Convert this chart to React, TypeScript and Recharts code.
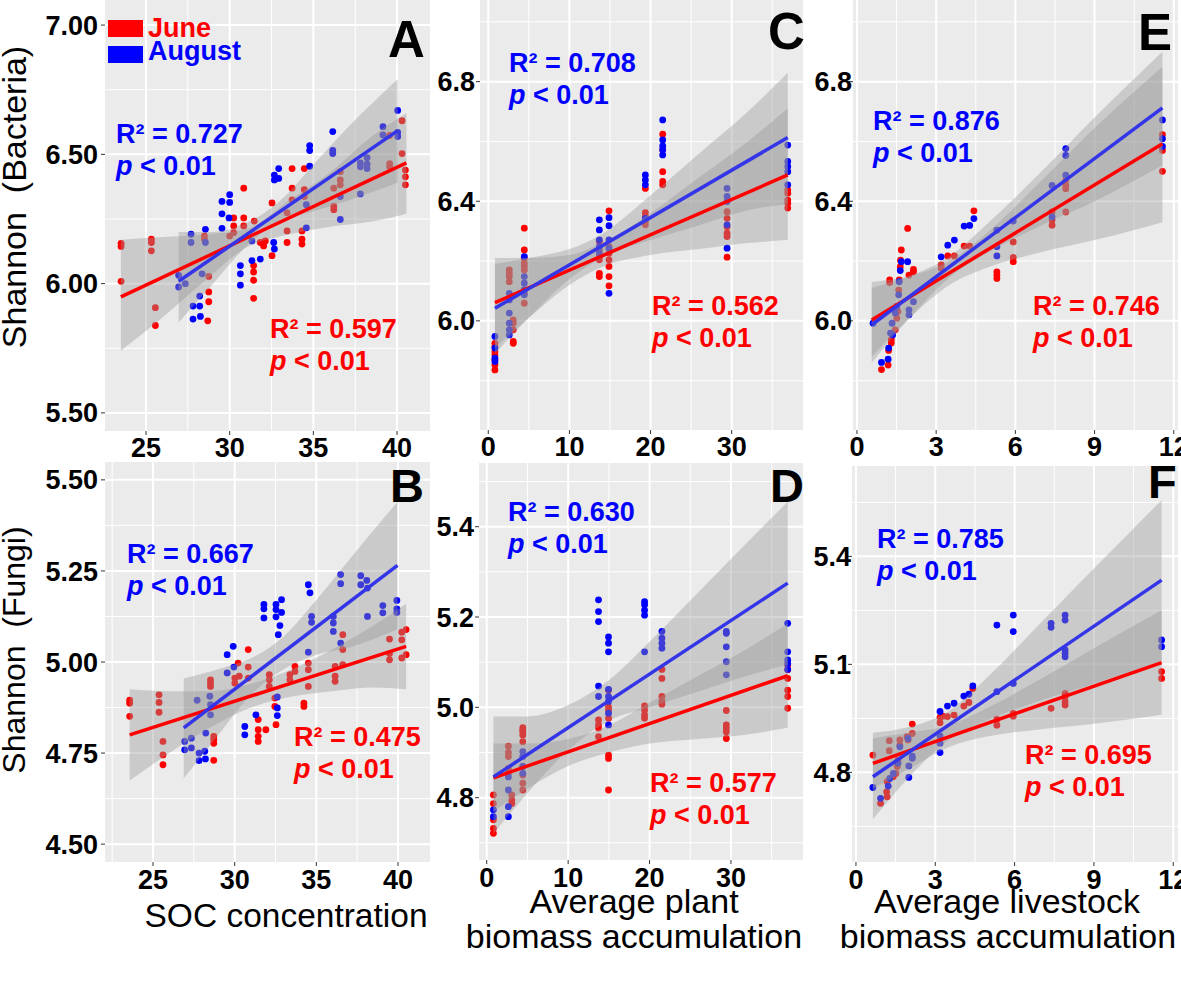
import {
    ComposedChart,
    Scatter,
    Line,
    Area,
    XAxis,
    YAxis,
    CartesianGrid,
} from "recharts";

type Pt = [number, number];
type Band = [number, number, number];

// A: Shannon (Bacteria) ~ SOC concentration
const aJune: Pt[] = [
    [23.51, 6.156], [23.51, 6.144], [23.51, 6.009],
    [25.32, 6.172], [25.32, 6.159], [25.32, 6.127], [25.56, 5.907], [25.56, 5.838],
    [28.49, 6.184], [28.49, 6.172], [28.75, 6.028], [28.75, 5.968], [28.75, 5.93], [28.69, 5.856],
    [30.0, 6.184], [30.24, 6.223], [30.24, 6.254], [30.84, 6.254], [30.84, 6.223], [30.84, 6.369], [30.24, 6.197],
    [31.43, 6.07], [31.43, 6.045], [31.43, 6.013], [31.43, 5.943], [31.47, 6.242],
    [32.53, 6.108], [32.53, 6.312], [31.83, 6.159], [32.03, 6.146], [32.13, 6.165],
    [33.73, 6.445], [33.73, 6.369], [33.73, 6.324], [33.43, 6.274], [33.43, 6.204], [33.43, 6.159],
    [34.46, 6.445], [34.46, 6.363], [34.46, 6.337], [34.32, 6.204], [34.32, 6.172], [34.32, 6.153],
    [36.22, 6.369], [36.22, 6.299], [36.22, 6.286], [36.61, 6.433], [36.61, 6.401], [36.61, 6.382],
    [39.56, 6.464], [39.56, 6.452], [39.56, 6.573],
    [40.3, 6.63], [40.3, 6.503], [40.5, 6.439], [40.5, 6.413], [40.5, 6.382],
];
const aAugust: Pt[] = [
    [26.95, 6.032], [26.95, 5.987], [27.35, 6.0],
    [27.69, 6.191], [27.69, 6.159], [27.81, 5.913], [27.81, 5.863], [28.21, 5.952], [28.21, 5.913],
    [28.25, 5.873], [28.35, 6.038], [28.55, 6.21], [28.55, 6.159],
    [29.54, 6.318], [29.54, 6.27], [30.0, 6.344], [30.0, 6.314], [29.96, 6.254], [29.54, 6.214],
    [30.64, 6.07], [30.64, 6.038], [30.64, 5.994],
    [31.33, 6.165], [31.33, 6.089], [31.83, 6.095],
    [32.67, 6.42], [32.67, 6.401], [32.93, 6.445], [32.93, 6.407], [32.67, 6.134], [32.63, 6.159],
    [34.78, 6.534], [34.78, 6.515], [34.78, 6.454], [34.58, 6.305], [34.58, 6.216],
    [36.16, 6.588], [36.16, 6.515], [36.16, 6.503], [36.61, 6.337], [36.61, 6.248],
    [37.81, 6.467], [37.81, 6.452], [38.21, 6.487], [38.21, 6.462], [38.21, 6.445], [37.81, 6.347],
    [39.16, 6.607], [39.16, 6.575], [40.04, 6.67], [40.04, 6.585], [40.04, 6.569],
];
const aJuneFit: Pt[] = [[23.5, 5.949], [40.56, 6.467]];
const aAugustFit: Pt[] = [[26.95, 6.009], [40.04, 6.592]];
const aJuneBand: Band[] = [
    [23.5, 5.74, 6.17], [26, 5.87, 6.18], [28.5, 6.01, 6.19], [31, 6.14, 6.21],
    [33.5, 6.19, 6.32], [36, 6.22, 6.43], [38.5, 6.24, 6.57], [40.56, 6.27, 6.66],
];
const aAugustBand: Band[] = [
    [26.95, 5.85, 6.2], [29, 6.0, 6.2], [31, 6.145, 6.235], [33, 6.24, 6.32],
    [35, 6.28, 6.46], [37, 6.32, 6.6], [40.04, 6.39, 6.79],
];

// B: Shannon (Fungi) ~ SOC concentration
const bJune: Pt[] = [
    [23.57, 4.895], [23.57, 4.887], [23.57, 4.851],
    [25.37, 4.91], [25.37, 4.889], [25.37, 4.862], [25.61, 4.782], [25.61, 4.745], [25.61, 4.718],
    [28.52, 4.951], [28.52, 4.942], [28.52, 4.933], [28.72, 4.796], [28.72, 4.787], [28.72, 4.777], [28.72, 4.73],
    [30.01, 4.956], [30.01, 4.942], [30.21, 4.997], [30.28, 4.961], [30.83, 5.034], [30.83, 4.986], [30.83, 4.956],
    [31.44, 4.842], [31.44, 4.814], [31.44, 4.796], [31.44, 4.782], [31.91, 4.814],
    [32.12, 4.965], [32.12, 4.951], [32.12, 4.933], [32.46, 4.901], [32.46, 4.878], [32.53, 4.828],
    [33.38, 4.965], [33.38, 4.951], [33.69, 4.988], [33.69, 4.974], [34.24, 4.887], [34.24, 4.878],
    [34.51, 4.997], [34.51, 4.979], [34.51, 4.933],
    [36.15, 4.988], [36.15, 4.961], [36.15, 4.947], [36.62, 5.075], [36.62, 5.034], [36.62, 4.993],
    [39.48, 5.063], [39.48, 5.023], [39.48, 5.006], [40.23, 5.082], [40.23, 5.061], [40.23, 5.011],
    [40.5, 5.089], [40.5, 5.02],
];
const bAugust: Pt[] = [
    [26.94, 4.782], [26.94, 4.759], [27.35, 4.791], [27.35, 4.764], [27.7, 4.895],
    [27.82, 4.75], [27.82, 4.729], [28.17, 4.755], [28.21, 4.734], [28.23, 4.805], [28.48, 4.906],
    [28.52, 4.883], [28.52, 4.855],
    [29.54, 5.02], [29.54, 4.97], [29.91, 5.043], [29.95, 4.986],
    [30.62, 4.823], [30.62, 4.8],
    [31.3, 4.855], [31.79, 5.158], [31.79, 5.146], [31.79, 5.121],
    [32.53, 5.158], [32.53, 5.144], [32.53, 5.124], [32.67, 5.075], [32.87, 5.171], [32.87, 5.136],
    [32.77, 5.1], [32.61, 4.904], [32.61, 4.874], [32.61, 4.853],
    [34.51, 5.212], [34.61, 5.19], [34.71, 5.125], [34.71, 5.109], [34.51, 5.027],
    [36.04, 5.125], [36.04, 5.107], [36.04, 5.084], [36.49, 5.24], [36.49, 5.215], [36.49, 5.052],
    [37.72, 5.237], [37.72, 5.212], [38.09, 5.224], [38.13, 5.203], [38.13, 5.125],
    [39.07, 5.155], [39.07, 5.135], [39.93, 5.169], [39.93, 5.146], [39.93, 5.136],
];
const bJuneFit: Pt[] = [[23.57, 4.8], [40.5, 5.043]];
const bAugustFit: Pt[] = [[26.88, 4.819], [39.97, 5.265]];
const bJuneBand: Band[] = [
    [23.57, 4.675, 4.925], [26, 4.75, 4.92], [28.5, 4.82, 4.92], [31, 4.875, 4.94],
    [33.5, 4.905, 4.98], [36, 4.92, 5.035], [38.5, 4.93, 5.1], [40.5, 4.925, 5.16],
];
const bAugustBand: Band[] = [
    [26.88, 4.68, 4.955], [29, 4.8, 4.98], [31, 4.91, 5.01], [33, 4.98, 5.07],
    [35, 5.02, 5.17], [37, 5.04, 5.28], [39.97, 5.09, 5.44],
];

// C: Shannon (Bacteria) ~ plant biomass
const cJune: Pt[] = [
    [0.82, 5.925], [0.82, 5.914], [0.82, 5.897], [0.82, 5.886], [0.82, 5.87], [0.82, 5.853], [0.82, 5.836],
    [2.59, 6.17], [2.59, 6.159], [2.59, 6.148], [2.59, 6.131],
    [3.08, 6.003], [3.08, 5.992], [3.08, 5.97], [3.08, 5.931], [3.08, 5.925],
    [4.44, 6.31], [4.44, 6.237], [4.44, 6.209], [4.44, 6.193], [4.44, 6.182], [4.44, 6.17], [4.44, 6.092], [4.44, 6.059],
    [13.69, 6.265], [13.69, 6.237], [13.69, 6.215], [13.69, 6.204], [13.69, 6.159], [13.69, 6.148],
    [14.88, 6.368], [14.88, 6.248], [14.88, 6.226], [14.88, 6.204], [14.88, 6.182], [14.88, 6.148], [14.88, 6.117],
    [19.36, 6.443], [19.36, 6.362], [19.36, 6.349], [19.36, 6.332], [19.36, 6.321],
    [21.5, 6.624], [21.5, 6.572], [21.5, 6.499], [21.5, 6.466], [21.5, 6.455],
    [29.43, 6.365], [29.43, 6.343], [29.43, 6.315], [29.43, 6.293], [29.43, 6.282], [29.43, 6.213],
    [36.91, 6.438], [36.91, 6.427], [36.91, 6.404], [36.91, 6.393], [36.91, 6.377],
];
const cAugust: Pt[] = [
    [0.82, 5.948], [0.82, 5.909], [0.82, 5.875], [0.82, 5.864],
    [2.59, 6.092], [2.59, 6.07], [2.59, 6.026], [2.59, 5.992], [2.59, 5.97], [2.59, 5.953],
    [4.44, 6.215], [4.44, 6.148], [4.44, 6.126], [4.44, 6.104], [4.44, 6.087],
    [13.69, 6.338], [13.69, 6.304], [13.69, 6.271], [13.69, 6.248], [13.69, 6.226],
    [14.88, 6.345], [14.88, 6.318], [14.88, 6.271], [14.88, 6.243], [14.88, 6.092],
    [19.36, 6.488], [19.36, 6.471], [19.36, 6.455], [19.36, 6.343],
    [21.5, 6.672], [21.5, 6.605], [21.5, 6.585], [21.5, 6.572], [21.5, 6.555],
    [29.43, 6.443], [29.43, 6.416], [29.43, 6.399], [29.43, 6.321], [29.43, 6.243],
    [36.91, 6.588], [36.91, 6.533], [36.91, 6.516], [36.91, 6.499], [36.91, 6.455],
];
const cJuneFit: Pt[] = [[0.82, 6.061], [36.91, 6.488]];
const cAugustFit: Pt[] = [[0.82, 6.042], [36.91, 6.613]];
const cJuneBand: Band[] = [
    [0.82, 5.91, 6.21], [5, 6.01, 6.21], [10, 6.12, 6.22], [14, 6.18, 6.26],
    [20, 6.22, 6.36], [26, 6.24, 6.48], [32, 6.26, 6.6], [36.91, 6.27, 6.71],
];
const cAugustBand: Band[] = [
    [0.82, 5.89, 6.19], [5, 6.01, 6.21], [10, 6.14, 6.24], [14, 6.21, 6.29],
    [20, 6.27, 6.42], [26, 6.32, 6.56], [32, 6.37, 6.7], [36.91, 6.39, 6.83],
];

// D: Shannon (Fungi) ~ plant biomass
const dJune: Pt[] = [
    [0.82, 4.806], [0.82, 4.787], [0.82, 4.751], [0.82, 4.732], [0.82, 4.721],
    [2.66, 4.914], [2.66, 4.9], [2.66, 4.891], [2.66, 4.865], [2.66, 4.854],
    [3.07, 4.806], [3.07, 4.795], [3.07, 4.787],
    [4.43, 4.955], [4.43, 4.95], [4.43, 4.946], [4.43, 4.939], [4.43, 4.924], [4.43, 4.869], [4.43, 4.85], [4.43, 4.832], [4.43, 4.817],
    [13.73, 4.972], [13.73, 4.961], [13.73, 4.954], [13.73, 4.935],
    [14.96, 5.038], [14.96, 5.001], [14.96, 4.994], [14.96, 4.976], [14.96, 4.894], [14.96, 4.887], [14.96, 4.817],
    [19.39, 5.003], [19.39, 4.994], [19.39, 4.983], [19.39, 4.976],
    [21.52, 5.084], [21.52, 5.064], [21.52, 5.024], [21.52, 5.013], [21.52, 5.007],
    [29.43, 4.993], [29.43, 4.961], [29.43, 4.954], [29.43, 4.946], [29.43, 4.931],
    [36.97, 5.094], [36.97, 5.083], [36.97, 5.064], [36.97, 5.038], [36.97, 5.024], [36.97, 4.998],
];
const dAugust: Pt[] = [
    [0.82, 4.773], [0.82, 4.758],
    [2.66, 4.846], [2.66, 4.817], [2.66, 4.78], [2.66, 4.758],
    [4.43, 4.902], [4.43, 4.891], [4.43, 4.869], [4.43, 4.854],
    [13.73, 5.238], [13.73, 5.212], [13.73, 5.19], [13.73, 5.047], [13.73, 5.024],
    [14.96, 5.156], [14.96, 5.142], [14.96, 5.123], [14.96, 5.04], [14.96, 5.024], [14.96, 5.013], [14.96, 4.987], [14.96, 4.961],
    [19.39, 5.234], [19.39, 5.227], [19.39, 5.215], [19.39, 5.204], [19.39, 5.123],
    [21.52, 5.168], [21.52, 5.153], [21.52, 5.142], [21.52, 5.131],
    [29.43, 5.168], [29.43, 5.164], [29.43, 5.134], [29.43, 5.101], [29.43, 5.072],
    [36.97, 5.186], [36.97, 5.123], [36.97, 5.105], [36.97, 5.097], [36.97, 5.084],
];
const dJuneFit: Pt[] = [[0.82, 4.844], [36.97, 5.07]];
const dAugustFit: Pt[] = [[0.82, 4.846], [36.97, 5.275]];
const dJuneBand: Band[] = [
    [0.82, 4.77, 4.92], [5, 4.82, 4.92], [10, 4.87, 4.93], [15, 4.9, 4.96],
    [20, 4.92, 5.01], [26, 4.93, 5.07], [32, 4.94, 5.13], [36.97, 4.955, 5.185],
];
const dAugustBand: Band[] = [
    [0.82, 4.72, 4.98], [5, 4.81, 4.98], [10, 4.905, 5.005], [15, 4.97, 5.06],
    [20, 5.0, 5.145], [26, 5.035, 5.255], [32, 5.07, 5.365], [36.97, 5.095, 5.455],
];

// E: Shannon (Bacteria) ~ livestock biomass
const eJune: Pt[] = [
    [0.93, 5.837], [1.18, 5.852], [1.2, 5.901], [1.3, 5.937], [1.3, 5.926], [1.45, 5.97], [1.51, 6.009],
    [1.55, 6.031], [1.58, 6.103], [1.6, 6.137], [1.64, 6.181], [1.65, 6.203], [1.68, 6.237],
    [1.24, 6.137], [1.24, 6.128], [1.92, 6.309], [1.97, 6.153], [2.14, 6.172], [2.14, 6.164],
    [3.19, 6.187], [3.19, 6.176], [3.44, 6.217], [3.69, 6.217], [4.06, 6.25], [4.27, 6.25], [4.43, 6.368],
    [5.3, 6.164], [5.3, 6.153], [5.3, 6.142], [5.92, 6.264], [5.92, 6.212], [5.92, 6.198],
    [7.39, 6.364], [7.39, 6.337], [7.39, 6.32], [7.91, 6.47], [7.91, 6.453], [7.91, 6.442], [7.91, 6.364],
    [11.57, 6.623], [11.57, 6.57], [11.57, 6.5],
];
const eAugust: Pt[] = [
    [0.61, 5.992], [0.93, 5.861], [1.18, 5.872], [1.2, 5.909], [1.27, 5.959], [1.33, 5.992], [1.35, 5.953],
    [1.45, 6.026], [1.51, 6.048], [1.58, 6.087], [1.6, 6.131], [1.64, 6.168], [1.68, 6.198],
    [1.92, 6.198], [1.97, 6.037], [1.97, 6.02], [2.14, 6.064],
    [3.19, 6.214], [3.44, 6.253], [3.69, 6.27], [4.06, 6.317], [4.27, 6.319], [4.43, 6.342],
    [5.3, 6.303], [5.3, 6.248], [5.3, 6.217], [5.92, 6.334],
    [7.39, 6.453], [7.39, 6.348], [7.91, 6.576], [7.91, 6.553], [7.91, 6.487],
    [11.57, 6.672], [11.57, 6.609], [11.57, 6.583],
];
const eJuneFit: Pt[] = [[0.56, 6.003], [11.57, 6.592]];
const eAugustFit: Pt[] = [[0.56, 5.987], [11.57, 6.712]];
const eJuneBand: Band[] = [
    [0.56, 5.88, 6.13], [2, 6.01, 6.15], [3.5, 6.12, 6.2], [5, 6.18, 6.3],
    [7, 6.23, 6.47], [9, 6.27, 6.645], [11.57, 6.33, 6.85],
];
const eAugustBand: Band[] = [
    [0.56, 5.86, 6.11], [2, 6.01, 6.15], [3.5, 6.145, 6.215], [5, 6.23, 6.33],
    [7, 6.32, 6.5], [9, 6.4, 6.68], [11.57, 6.52, 6.9],
];

// F: Shannon (Fungi) ~ livestock biomass
const fJune: Pt[] = [
    [0.64, 4.848], [0.93, 4.714], [1.16, 4.746], [1.18, 4.732], [1.18, 4.774], [1.26, 4.86], [1.26, 4.888],
    [1.41, 4.788], [1.51, 4.797], [1.56, 4.816], [1.59, 4.834], [1.66, 4.89], [1.66, 4.876],
    [1.93, 4.899], [1.97, 4.89], [2.13, 4.934], [2.13, 4.908],
    [3.18, 4.953], [3.18, 4.938], [3.28, 4.956], [3.46, 4.955], [3.71, 4.959], [4.08, 4.984], [4.27, 4.994], [4.42, 5.033],
    [5.33, 4.947], [5.33, 4.931], [5.95, 4.964], [5.95, 4.956],
    [7.38, 4.978], [7.91, 5.019], [7.91, 5.01], [7.91, 4.996], [7.91, 4.987],
    [11.56, 5.08], [11.56, 5.061],
];
const fAugust: Pt[] = [
    [0.64, 4.758], [0.93, 4.728], [1.22, 4.762], [1.28, 4.783], [1.41, 4.797], [1.59, 4.825], [1.66, 4.871],
    [1.97, 4.894], [2.0, 4.786], [2.0, 4.818], [2.13, 4.839], [2.13, 4.845],
    [3.18, 4.969], [3.18, 4.901], [3.18, 4.881], [3.18, 4.855], [3.46, 4.984], [3.71, 4.992], [4.08, 5.012],
    [4.27, 5.017], [4.42, 5.04],
    [5.33, 5.209], [5.33, 5.024], [5.95, 5.237], [5.95, 5.191], [5.95, 5.047],
    [7.38, 5.214], [7.38, 5.203], [7.91, 5.237], [7.91, 5.223], [7.91, 5.14], [7.91, 5.131], [7.91, 5.121],
    [11.56, 5.168], [11.56, 5.149],
];
const fJuneFit: Pt[] = [[0.64, 4.825], [11.56, 5.105]];
const fAugustFit: Pt[] = [[0.64, 4.788], [11.56, 5.334]];
const fJuneBand: Band[] = [
    [0.64, 4.755, 4.895], [2, 4.81, 4.91], [3.5, 4.87, 4.93], [5, 4.9, 4.98],
    [7, 4.92, 5.06], [9, 4.935, 5.145], [11.56, 4.96, 5.25],
];
const fAugustBand: Band[] = [
    [0.64, 4.67, 4.91], [2, 4.786, 4.926], [3.5, 4.89, 4.97], [5, 4.946, 5.066],
    [7, 5.0, 5.216], [9, 5.046, 5.366], [11.56, 5.11, 5.556],
];

// axis ticks
const socTicks = [25, 30, 35, 40];
const socMinor = [22.5, 27.5, 32.5, 37.5];
const plantTicks = [0, 10, 20, 30];
const plantMinor = [5, 15, 25, 35];
const livestockTicks = [0, 3, 6, 9, 12];
const livestockMinor = [1.5, 4.5, 7.5, 10.5];
const bacteriaSocTicks = [5.5, 6.0, 6.5, 7.0];
const bacteriaSocMinor = [5.75, 6.25, 6.75];
const fungiSocTicks = [4.5, 4.75, 5.0, 5.25, 5.5];
const fungiSocMinor = [4.625, 4.875, 5.125, 5.375];
const bacteriaTicks = [6.0, 6.4, 6.8];
const bacteriaMinor = [5.8, 6.2, 6.6, 7.0];
const fungiPlantTicks = [4.8, 5.0, 5.2, 5.4];
const fungiPlantMinor = [4.7, 4.9, 5.1, 5.3, 5.5];
const fungiLivestockTicks = [4.8, 5.1, 5.4];
const fungiLivestockMinor = [4.65, 4.95, 5.25, 5.55];

const RED = "#ff0000";
const BLUE = "#0000ff";
const BLUE_LINE = "#3434e8";
const FONT = "'Liberation Sans', Arial, Helvetica, sans-serif";

const toPoints = (a: Pt[]) => a.map(([x, y]) => ({ x, y }));
const toBand = (a: Band[]) => a.map(([x, lo, hi]) => ({ x, range: [lo, hi] }));

const panels = [
    {
        letter: "A", june: aJune, august: aAugust, juneFit: aJuneFit, augustFit: aAugustFit,
        juneBand: aJuneBand, augustBand: aAugustBand, r2June: "0.597", r2August: "0.727",
        xTicks: socTicks, xMinor: socMinor, yTicks: bacteriaSocTicks, yMinor: bacteriaSocMinor,
        xDomain: [22.55, 41.97], yDomain: [5.43, 7.097], digits: 2,
        box: { left: 105, top: 0, width: 325, height: 431 }, yW: 80, yTickMargin: 3, xTickMargin: 3,
        augPos: [116, 117.6], junePos: [270, 312.6], letterPos: [388, 57], letterSize: 51,
    },
    {
        letter: "B", june: bJune, august: bAugust, juneFit: bJuneFit, augustFit: bAugustFit,
        juneBand: bJuneBand, augustBand: bAugustBand, r2June: "0.475", r2August: "0.667",
        xTicks: socTicks, xMinor: socMinor, yTicks: fungiSocTicks, yMinor: fungiSocMinor,
        xDomain: [22.06, 41.96], yDomain: [4.451, 5.549], digits: 2,
        box: { left: 105, top: 462, width: 325, height: 400 }, yW: 80, yTickMargin: 3, xTickMargin: 4,
        augPos: [127, 537.6], junePos: [294, 720.6], letterPos: [390, 502], letterSize: 47,
    },
    {
        letter: "C", june: cJune, august: cAugust, juneFit: cJuneFit, augustFit: cAugustFit,
        juneBand: cJuneBand, augustBand: cAugustBand, r2June: "0.562", r2August: "0.708",
        xTicks: plantTicks, xMinor: plantMinor, yTicks: bacteriaTicks, yMinor: bacteriaMinor,
        xDomain: [-1.02, 38.79], yDomain: [5.635, 7.073], digits: 1,
        box: { left: 480, top: 0, width: 323, height: 430 }, yW: 60, yTickMargin: 1, xTickMargin: 3,
        augPos: [509, 47.3], junePos: [652, 289.6], letterPos: [768, 49], letterSize: 51,
    },
    {
        letter: "D", june: dJune, august: dAugust, juneFit: dJuneFit, augustFit: dAugustFit,
        juneBand: dJuneBand, augustBand: dAugustBand, r2June: "0.577", r2August: "0.630",
        xTicks: plantTicks, xMinor: plantMinor, yTicks: fungiPlantTicks, yMinor: fungiPlantMinor,
        xDomain: [-0.95, 38.85], yDomain: [4.662, 5.541], digits: 1,
        box: { left: 479, top: 463, width: 324, height: 397 }, yW: 60, yTickMargin: 1, xTickMargin: 4,
        augPos: [508, 495.6], junePos: [650, 766.6], letterPos: [770, 502], letterSize: 47,
    },
    {
        letter: "E", june: eJune, august: eAugust, juneFit: eJuneFit, augustFit: eAugustFit,
        juneBand: eJuneBand, augustBand: eAugustBand, r2June: "0.746", r2August: "0.876",
        xTicks: livestockTicks, xMinor: livestockMinor, yTicks: bacteriaTicks, yMinor: bacteriaMinor,
        xDomain: [-0.15, 12.16], yDomain: [5.635, 7.073], digits: 1,
        box: { left: 853, top: 0, width: 325, height: 430 }, yW: 50, yTickMargin: -3, xTickMargin: 3,
        augPos: [873, 104.6], junePos: [1033, 289.6], letterPos: [1138, 50], letterSize: 51,
    },
    {
        letter: "F", june: fJune, august: fAugust, juneFit: fJuneFit, augustFit: fAugustFit,
        juneBand: fJuneBand, augustBand: fAugustBand, r2June: "0.695", r2August: "0.785",
        xTicks: livestockTicks, xMinor: livestockMinor, yTicks: fungiLivestockTicks, yMinor: fungiLivestockMinor,
        xDomain: [-0.15, 12.18], yDomain: [4.551, 5.651], digits: 1,
        box: { left: 852, top: 466, width: 326, height: 396 }, yW: 50, yTickMargin: -3, xTickMargin: 4,
        augPos: [877, 522.6], junePos: [1025, 738.6], letterPos: [1148, 498], letterSize: 47,
    },
];

const tickStyle = { fill: "#000", fontSize: 27, fontWeight: 700, fontFamily: FONT };

const dot = (color: string) => (p: any) => (
    <circle cx={p.cx} cy={p.cy} r={3.4} fill={color} />
);

function Stat({ pos, color, r2 }: { pos: number[]; color: string; r2: string }) {
    return (
        <div
            style={{
                position: "absolute", left: pos[0], top: pos[1], color,
                fontFamily: FONT, fontWeight: 700, fontSize: 27, lineHeight: "32px",
                whiteSpace: "nowrap",
            }}
        >
            <div>R² = {r2}</div>
            <div><i>p</i> &lt; 0.01</div>
        </div>
    );
}

function Panel({ p }: { p: (typeof panels)[number] }) {
    const { box, yW } = p;
    const xH = 45;
    const right = 10;
    return (
        <div style={{ position: "absolute", left: box.left - yW, top: box.top }}>
            <ComposedChart
                width={yW + box.width + right}
                height={box.height + xH}
                margin={{ top: 0, right, bottom: 0, left: 0 }}
            >
                <CartesianGrid
                    fill="#ebebeb"
                    stroke="#ffffff"
                    strokeWidth={1}
                    horizontalValues={p.yMinor}
                    verticalValues={p.xMinor}
                />
                <CartesianGrid
                    stroke="#ffffff"
                    strokeWidth={2}
                    horizontalValues={p.yTicks}
                    verticalValues={p.xTicks}
                />
                <XAxis
                    type="number"
                    dataKey="x"
                    domain={p.xDomain}
                    ticks={p.xTicks}
                    allowDataOverflow
                    interval={0}
                    height={xH}
                    axisLine={false}
                    tickLine={{ stroke: "#333" }}
                    tickSize={4}
                    tickMargin={p.xTickMargin}
                    tick={tickStyle}
                />
                <YAxis
                    type="number"
                    dataKey="y"
                    domain={p.yDomain}
                    ticks={p.yTicks}
                    allowDataOverflow
                    interval={0}
                    width={yW}
                    axisLine={false}
                    tickLine={{ stroke: "#333" }}
                    tickSize={4}
                    tickMargin={p.yTickMargin}
                    tick={tickStyle}
                    tickFormatter={(v: number) => v.toFixed(p.digits)}
                />
                <Scatter data={toPoints(p.june)} dataKey="y" shape={dot(RED)} isAnimationActive={false} zIndex={50} />
                <Scatter data={toPoints(p.august)} dataKey="y" shape={dot(BLUE)} isAnimationActive={false} zIndex={51} />
                <Area
                    data={toBand(p.juneBand)}
                    dataKey="range"
                    type="monotone"
                    stroke="none"
                    fill="#999999"
                    fillOpacity={0.4}
                    dot={false}
                    activeDot={false}
                    isAnimationActive={false}
                    zIndex={100}
                />
                <Area
                    data={toBand(p.augustBand)}
                    dataKey="range"
                    type="monotone"
                    stroke="none"
                    fill="#999999"
                    fillOpacity={0.4}
                    dot={false}
                    activeDot={false}
                    isAnimationActive={false}
                    zIndex={101}
                />
                <Line
                    data={toPoints(p.juneFit)}
                    dataKey="y"
                    type="linear"
                    stroke={RED}
                    strokeWidth={3.5}
                    dot={false}
                    activeDot={false}
                    isAnimationActive={false}
                    zIndex={400}
                />
                <Line
                    data={toPoints(p.augustFit)}
                    dataKey="y"
                    type="linear"
                    stroke={BLUE_LINE}
                    strokeWidth={3.5}
                    dot={false}
                    activeDot={false}
                    isAnimationActive={false}
                    zIndex={401}
                />
            </ComposedChart>
        </div>
    );
}

const letterStyle = (size: number, pos: number[]) => ({
    position: "absolute" as const,
    left: pos[0],
    top: pos[1] - size * 0.8465,
    fontFamily: FONT,
    fontWeight: 700,
    fontSize: size,
    lineHeight: `${size}px`,
    color: "#000",
});

const textBase = { position: "absolute" as const, fontFamily: FONT, color: "#000", whiteSpace: "pre" as const };
const titleLine = (left: number, top: number) => ({
    ...textBase, left, top, fontSize: 34, lineHeight: "24px", transform: "translateX(-50%)",
});

export default function App() {
    return (
        <div style={{ position: "relative", width: 1181, height: 996, background: "#fff", overflow: "hidden" }}>
            <style>{`body { margin: 0; }`}</style>
            {panels.map((p) => (
                <Panel key={p.letter} p={p} />
            ))}
            {panels.map((p) => (
                <div key={p.letter + "t"}>
                    <Stat pos={p.augPos} color={BLUE} r2={p.r2August} />
                    <Stat pos={p.junePos} color={RED} r2={p.r2June} />
                    <div style={letterStyle(p.letterSize, p.letterPos)}>{p.letter}</div>
                </div>
            ))}

            {/* legend */}
            <div style={{ position: "absolute", left: 108, top: 20, width: 35, height: 17, background: RED }} />
            <div style={{ position: "absolute", left: 108, top: 46, width: 35, height: 17, background: BLUE }} />
            <div style={{ ...textBase, left: 148, top: 12, fontSize: 27, fontWeight: 700, lineHeight: "32px", color: RED }}>June</div>
            <div style={{ ...textBase, left: 148, top: 35, fontSize: 27, fontWeight: 700, lineHeight: "32px", color: BLUE }}>August</div>

            {/* axis titles */}
            <div
                style={{
                    ...textBase, left: 14, top: 197, fontSize: 34, lineHeight: "38px",
                    transform: "translate(-50%, -50%) rotate(-90deg)",
                }}
            >
                {"Shannon  (Bacteria)"}
            </div>
            <div
                style={{
                    ...textBase, left: 14, top: 650, fontSize: 32, lineHeight: "36px",
                    transform: "translate(-50%, -50%) rotate(-90deg)",
                }}
            >
                {"Shannon  (Fungi)"}
            </div>
            <div style={{ ...textBase, left: 286, top: 904, fontSize: 33.5, lineHeight: "24px", transform: "translateX(-50%)" }}>
                SOC concentration
            </div>
            <div style={titleLine(634, 889)}>Average plant</div>
            <div style={titleLine(634, 924)}>biomass accumulation</div>
            <div style={titleLine(1007, 889)}>Average livestock</div>
            <div style={titleLine(1008, 924)}>biomass accumulation</div>
        </div>
    );
}
